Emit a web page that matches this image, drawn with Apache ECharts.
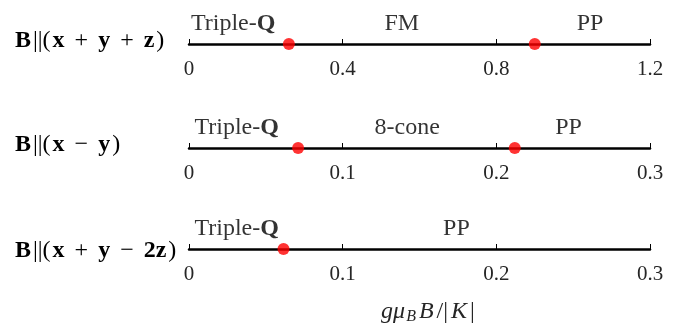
<!DOCTYPE html>
<html>
<head>
<meta charset="utf-8">
<script src="https://cdn.jsdelivr.net/npm/echarts@6/dist/echarts.min.js"></script>
<style>
  html, body { margin: 0; padding: 0; background: #fff; }
  #chart { width: 691px; height: 326px; }
</style>
</head>
<body>
<div id="chart"></div>
<script>
// field directions (one row each)
const rowNames = ["x+y+z", "x-y", "x+y-2z"];
// axis ranges and tick step per row
const axisMax = [1.2, 0.3, 0.3];
const axisStep = [0.4, 0.1, 0.1];
// transition fields (red dots)
const transitions = [
  [0.26, 0.90],
  [0.071, 0.212],
  [0.0615]
];
// phase names and where they sit along each row
const phaseNames = [
  ["Triple-Q", "FM", "PP"],
  ["Triple-Q", "8-cone", "PP"],
  ["Triple-Q", "PP"]
];
const phaseAt = [
  [0.115, 0.554, 1.044],
  [0.031, 0.142, 0.247],
  [0.031, 0.174]
];

const serif = "'Liberation Serif', 'DejaVu Serif', serif";
const lineY = [44, 148, 254];

// rich text for the left-hand labels
const leftRich = {
  b: { fontFamily: serif, fontWeight: "bold", fontSize: 24, color: "#000", padding: [0, 1, 0, 1] },
  r: { fontFamily: serif, fontSize: 24, color: "#000", padding: [0, 1, 0, 1] },
  o: { fontFamily: serif, fontSize: 24, color: "#000", padding: [0, 9, 0, 9] }
};
const leftText = [
  "{b|B}{r|||(}{b|x}{o|+}{b|y}{o|+}{b|z}{r|)}",
  "{b|B}{r|||(}{b|x}{o|−}{b|y}{r|)}",
  "{b|B}{r|||(}{b|x}{o|+}{b|y}{o|−}{b|2z}{r|)}"
];

function phaseLabel(name) {
  if (name === "Triple-Q") return "{r|Triple-}{b|Q}";
  return "{r|" + name + "}";
}

const grids = [], xAxes = [], yAxes = [], series = [];
rowNames.forEach((n, i) => {
  grids.push({ left: 189, right: 41, top: lineY[i] - 30, height: 30 });
  xAxes.push({
    gridIndex: i,
    type: "value",
    min: 0,
    max: axisMax[i],
    interval: axisStep[i],
    axisLine: { lineStyle: { color: "#000", width: 2.5 } },
    axisTick: { inside: true, length: 5, lineStyle: { color: "#000", width: 1 } },
    splitLine: { show: false },
    axisLabel: {
      fontFamily: serif, fontSize: 21, color: "#262626", margin: 15,
      formatter: v => String(+v.toFixed(2))
    },
    name: i === 2 ? "{i|gμ}{s|B}{i|B}{r|/|}{i|K}{r||}" : "",
    nameLocation: "middle",
    nameGap: 50,
    nameTextStyle: {
      padding: [0, 0, 0, 18],
      rich: {
        i: { fontFamily: serif, fontStyle: "italic", fontSize: 24, color: "#262626", padding: [0, 1, 0, 1] },
        s: { fontFamily: serif, fontStyle: "italic", fontSize: 16, color: "#262626", verticalAlign: "bottom", padding: [10, 2, 0, 0] },
        r: { fontFamily: serif, fontSize: 24, color: "#262626", padding: [0, 2, 0, 2] }
      }
    }
  });
  yAxes.push({ gridIndex: i, type: "value", min: 0, max: 1, show: false });

  series.push({
    type: "scatter",
    xAxisIndex: i, yAxisIndex: i,
    symbolSize: 0,
    silent: true,
    data: phaseAt[i].map((x, k) => ({ value: [x, 0], name: phaseNames[i][k] })),
    label: {
      show: true, position: "top", distance: 8,
      formatter: p => phaseLabel(p.name),
      rich: {
        r: { fontFamily: serif, fontSize: 24, color: "#000" },
        b: { fontFamily: serif, fontSize: 24, fontWeight: "bold", color: "#000" }
      }
    },
    z: 3
  });
  series.push({
    type: "scatter",
    xAxisIndex: i, yAxisIndex: i,
    symbol: "circle",
    symbolSize: 12,
    itemStyle: { color: "#ff0000" },
    data: transitions[i].map(x => [x, 0]),
    clip: false,
    z: 5
  });
});

const chart = echarts.init(document.getElementById("chart"));
chart.setOption({
  animation: false,
  grid: grids,
  xAxis: xAxes,
  yAxis: yAxes,
  series: series,
  graphic: leftText.map((t, i) => ({
    type: "text",
    left: 15,
    top: lineY[i] - 15,
    style: { text: t, rich: leftRich }
  }))
});
</script>
</body>
</html>
